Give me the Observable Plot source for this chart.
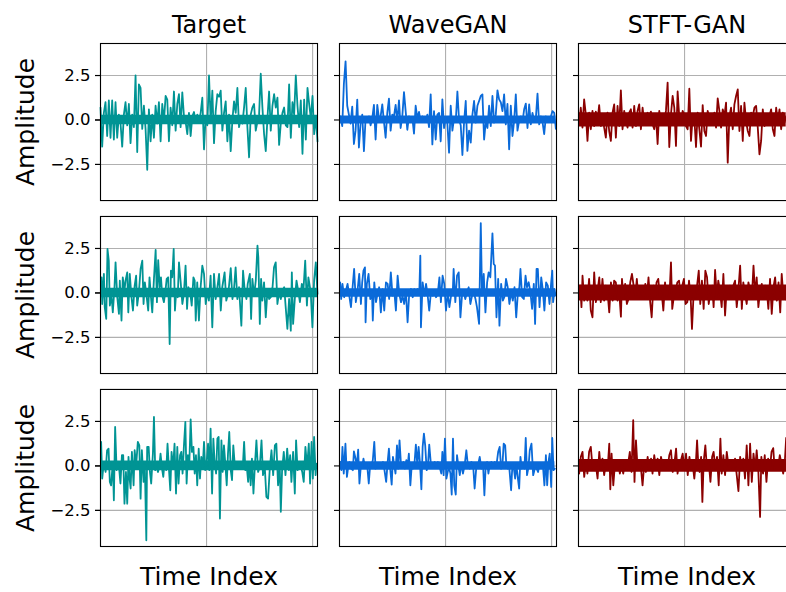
<!DOCTYPE html>
<html>
<head>
<meta charset="utf-8">
<script src="https://cdn.jsdelivr.net/npm/d3@7"></script>
<script src="https://cdn.jsdelivr.net/npm/@observablehq/plot@0.6"></script>
<style>
  html, body { margin: 0; padding: 0; background: #fff; }
  body { width: 786px; height: 592px; overflow: hidden; }
  #chart svg { max-width: none; display: block; }
</style>
</head>
<body>
<div id="chart"></div>
<script>
// Grid of generated waveforms: one column per model, one row per sample.
const models = ["Target", "WaveGAN", "STFT-GAN"];
const samples = ["Sample 1", "Sample 2", "Sample 3"];
const modelColors = ["#009494", "#0a6ad9", "#8b0000"];
const yTicks = [-2.5, 0, 2.5];
const xTicks = [0, 500, 1000];
const lastIndex = 1023;

// Half-width of the dense noise floor around zero, per sample row.
const floorTarget = [0.27, 0.27, 0.27];
const floorWave = [0.23, 0.24, 0.24];
const floorStft = [0.4, 0.45, 0.36];

// Sample 1: amplitudes taken at evenly spaced time indices between the span ends.
const target1Span = [0, 1023];
const target1 = [
  0.7, -1.5, 0.4, 1.0, -0.9, 1.1, -1.0, 1.1, -1.1, 1.0,
  -1.0, 0.3, -0.2, -1.5, 0.3, 1.0, -0.3, 0.9, -1.3, 0.3,
  -0.4, 2.5, -1.8, 2.0, 1.8, -0.5, 0.8, -0.5, -2.8, 0.6,
  -1.2, 0.3, -1.0, 0.8, -0.2, 1.0, -1.2, 0.9, -0.1, 1.35,
  1.15, -1.2, 0.7, -0.3, 1.6, -0.6, 0.9, 1.45, -0.4, 1.55,
  0.2, -0.1, -0.8, 0.4, -0.9, 0.2, 0.45, -0.15, 0.3, -0.1,
  0.4, 1.25, -1.65, 0.2, -0.3, 2.5, -0.1, 1.65, -1.3, 0.5,
  1.45, 1.3, 1.65, -0.6, 0.4, 1.05, -1.2, 0.3, -1.75, 0.0,
  1.05, 0.4, 1.8, -0.4, 0.1, -0.2, 0.7, 1.8, -0.4, -2.1,
  0.3, 0.7, 0.9, -0.6, -0.1, 0.3, 2.6, 0.7, -0.8, -1.75,
  0.1, 1.6, -0.6, 0.8, 1.45, 0.7, 1.25, -1.4, -0.2, 0.4,
  0.7, -0.3, -0.4, 2.0, -1.0, 1.0, 0.3, 2.5, 0.8, -0.4,
  1.1, -1.9, 1.15, -1.1, 1.8, 0.9, 0.1, 1.35, -0.8, 0.2,
  -1.2
];
const wave1Span = [5, 1020];
const wave1 = [
  0.2, -0.35, 2.05, 3.3, 0.8, 0.3, -0.2, 0.75, -1.35, -0.6,
  1.15, -1.55, -0.2, 0.3, -1.75, 0.1, -0.1, 0.2, -0.3, 0.1,
  0.85, -1.1, 0.85, 0.1, 0.2, 0.88, -0.1, -1.0, 0.4, 1.2,
  -0.6, 0.3, 0.2, 0.85, -0.1, 1.1, -0.45, 0.2, 1.57, 0.5,
  -0.55, 0.2, -0.1, 0.15, -0.77, 0.8, 0.1, 0.45, -0.1, 0.2,
  0.1, -0.1, 0.3, -0.4, 1.44, -1.37, 0.5, -1.1, 0.3, 0.4,
  -1.2, 1.16, -0.45, 0.1, -0.2, -1.84, 0.8, -0.6, 0.1, -0.1,
  1.6, 0.0, -0.3, -1.97, -0.1, 1.07, -1.74, -0.6, -1.27, 0.3,
  1.07, -0.15, 0.8, 1.07, 1.35, 1.44, -1.1, -0.1, -0.45, 0.8,
  -0.35, 1.35, -0.15, 0.3, 1.67, 1.16, 1.0, 0.5, 1.44, -0.25,
  0.9, -1.65, 0.8, -0.9, -0.05, 1.44, -0.6, -0.05, 0.2, -0.1,
  0.6, 0.92, -0.45, 0.88, -0.25, 0.4, -0.05, 0.1, 1.48, -0.25,
  0.2, -0.1, -0.8, 0.2, -0.1, 0.1, 0.2, 0.5, 0.4, -0.5
];
const stft1Span = [3, 979];
const stft1 = [
  -0.24, 0.69, -0.43, 1.16, 0.32, -1.18, 0.41, -0.52, 0.51, -0.34,
  0.47, -0.06, 0.84, -0.34, 0.32, -0.43, -0.99, 0.41, -0.62, -1.18,
  0.41, 0.88, -0.99, 0.79, -0.34, 1.67, -0.52, 0.51, -0.06, -0.43,
  0.41, 0.6, -0.43, 0.79, -0.34, 0.51, 0.88, -0.52, 0.69, -0.15,
  0.22, 0.41, 0.22, 0.47, -0.24, -0.52, 0.22, -1.35, 0.51, -0.24,
  0.13, -0.15, 0.51, 2.1, -1.52, 0.32, 1.35, 0.69, -1.46, 1.6,
  0.13, -0.24, 0.51, 0.28, -0.34, -0.52, 1.76, -1.18, 0.22, 0.13,
  -1.52, 0.41, -0.52, -1.5, 0.84, -0.62, -0.9, 0.51, 0.13, 0.22,
  -0.06, 0.41, -0.43, 1.22, 0.51, -0.43, 0.6, 0.22, 0.97, -2.4,
  0.22, 0.69, -0.52, 0.88, 1.35, 1.72, -0.62, 0.79, -1.18, 0.97,
  -0.06, -0.62, -0.9, 0.41, 0.22, 0.69, 0.79, -0.43, -1.93, -1.18,
  0.6, -0.34, 0.32, -0.24, 0.22, 0.6, -0.52, -0.9, 0.69, -0.06,
  0.6, -0.52, 0.41, -0.15, 0.22
];

// Samples 2 and 3: [time index, amplitude].
const target2 = [
  [5,0.88],[8,-0.62],[16,1.07],[20,-0.8],[27,-1.46],[33,2.47],[39,1.82],[44,-0.71],[52,-0.15],[58,-1.09],
  [66,0.32],[71,1.72],[79,-0.24],[87,-1.18],[91,0.69],[99,-1.55],[105,0.88],[113,0.13],[118,0.69],[126,1.16],
  [131,-1.09],[138,1.07],[146,-0.24],[153,-0.99],[161,0.41],[168,0.97],[173,-0.71],[181,0.04],[189,1.35],[197,1.82],
  [203,-0.62],[209,0.6],[217,-0.15],[225,-0.99],[231,0.88],[238,-0.24],[244,-1.09],[252,0.79],[260,2.42],[266,-0.52],
  [272,1.85],[279,0.32],[285,0.88],[291,-0.15],[299,-0.52],[307,0.22],[312,0.79],[319,0.88],[326,-2.87],[332,1.25],
  [338,0.88],[345,2.47],[351,-0.99],[357,0.13],[364,-0.24],[370,1.72],[378,0.6],[386,-0.62],[393,-0.06],[401,1.54],
  [408,-0.9],[414,0.32],[422,0.13],[430,-0.71],[438,0.88],[444,0.69],[449,-1.55],[456,0.6],[464,-1.55],[472,0.32],
  [480,1.54],[488,1.07],[496,-0.62],[505,0.13],[511,-0.43],[519,0.97],[527,-1.93],[535,1.07],[543,-0.34],[551,0.32],
  [559,1.07],[567,-0.99],[574,0.32],[585,1.16],[593,-0.43],[603,0.04],[614,1.4],[622,-0.34],[630,0.32],[637,1.44],
  [645,-0.34],[653,0.32],[664,-1.84],[672,1.25],[680,0.13],[688,-0.34],[694,0.51],[704,1.07],[710,-1.46],[716,0.79],
  [724,-0.15],[732,0.69],[740,2.66],[744,2.0],[751,-1.74],[757,0.79],[763,-0.43],[771,0.6],[779,-1.37],[787,0.13],
  [795,-0.34],[803,-0.24],[811,0.32],[818,1.44],[826,1.72],[834,-0.62],[842,0.04],[850,-0.34],[858,0.13],[866,0.32],
  [873,-0.8],[881,-2.02],[889,-0.34],[897,-2.12],[902,1.16],[908,-1.74],[916,-0.34],[924,0.69],[932,0.13],[940,-0.52],
  [949,0.51],[957,0.22],[965,1.82],[973,-0.71],[980,0.88],[991,0.04],[999,-1.93],[1007,0.69],[1015,1.72],[1023,-0.06]
];
const wave2 = [
  [3,0.6],[8,-0.34],[14,0.51],[22,-0.24],[30,0.13],[38,0.51],[46,-0.15],[54,-0.8],[61,0.22],[69,1.35],
  [77,-0.52],[85,0.13],[93,1.07],[101,-0.62],[107,0.6],[113,1.25],[120,1.44],[123,-1.65],[129,0.51],[137,1.07],
  [145,-0.34],[153,0.13],[157,-1.55],[164,0.6],[172,-0.52],[179,-0.06],[187,0.32],[195,-1.09],[203,0.22],[211,-0.99],
  [219,0.6],[227,0.51],[234,-0.34],[242,1.16],[250,-0.15],[258,0.13],[266,-0.99],[274,0.97],[282,-0.06],[290,-0.52],
  [297,-0.15],[305,-0.62],[313,0.13],[321,-1.65],[329,0.04],[337,0.22],[345,-0.24],[353,0.22],[360,0.04],[368,0.22],
  [376,-0.06],[381,2.1],[384,-1.93],[392,0.6],[400,-0.15],[408,0.51],[415,-0.06],[423,-0.99],[431,0.04],[439,-0.15],
  [447,0.13],[455,-0.24],[463,-0.06],[471,0.88],[478,-0.52],[486,0.97],[494,0.51],[502,-0.99],[510,0.04],[518,-0.8],
  [526,-0.15],[534,0.04],[538,1.35],[546,-0.52],[554,0.97],[562,1.16],[570,-1.37],[578,-0.06],[585,0.13],[593,-0.34],
  [601,0.04],[609,0.32],[617,-0.62],[625,-0.15],[633,0.04],[641,-0.34],[648,-0.8],[658,-1.74],[666,3.93],[672,-0.15],
  [680,1.07],[688,-1.09],[696,0.6],[703,1.16],[711,0.88],[721,3.35],[727,1.63],[733,1.54],[740,-1.37],[748,0.79],
  [754,-1.84],[762,0.51],[770,-0.43],[777,-0.24],[785,0.79],[793,0.32],[801,-0.62],[809,0.04],[817,-0.43],[825,0.32],
  [833,-1.37],[840,-0.15],[848,0.32],[853,1.35],[861,-0.24],[869,-0.34],[877,0.97],[884,0.32],[892,0.6],[900,0.04],
  [908,-0.9],[916,0.51],[922,-1.74],[929,1.35],[935,1.35],[943,-0.8],[951,0.88],[958,0.22],[966,-0.99],[974,0.6],
  [982,0.41],[990,-0.62],[998,0.6],[1003,1.25],[1007,-0.52],[1014,0.22],[1018,-0.15]
];
const stft2 = [
  [3,-0.34],[8,0.41],[14,-0.8],[19,0.97],[27,-0.43],[35,0.41],[42,-0.43],[50,0.79],[58,-0.99],[66,-1.37],
  [74,1.16],[82,-0.52],[90,0.13],[98,0.88],[105,-0.52],[113,0.79],[121,-0.43],[129,0.41],[137,0.04],[145,-1.09],
  [153,0.6],[161,-0.43],[168,0.69],[176,0.6],[184,-0.43],[192,0.04],[200,-1.33],[205,0.79],[212,-0.34],[220,0.51],
  [228,-0.62],[236,-0.34],[244,0.6],[252,1.07],[260,0.41],[268,-0.15],[275,0.79],[283,-0.34],[291,0.22],[299,0.13],
  [307,-0.34],[315,0.51],[323,-0.15],[330,0.88],[338,-0.52],[345,-1.37],[353,0.41],[360,-0.34],[368,0.6],[376,0.79],
  [384,-0.24],[392,0.04],[400,-0.99],[408,0.6],[415,-0.24],[423,0.22],[431,0.41],[436,1.72],[442,-0.9],[450,-0.15],
  [458,0.13],[466,0.6],[474,0.69],[482,-0.24],[489,0.41],[497,0.79],[505,-0.62],[513,-0.52],[521,0.69],[529,-0.34],
  [535,-2.02],[543,0.04],[551,-0.24],[559,0.41],[567,1.25],[574,-0.62],[582,0.69],[590,-0.9],[598,1.25],[606,0.88],
  [614,-0.62],[622,0.13],[630,0.41],[637,-0.8],[644,1.29],[652,-0.24],[659,0.69],[667,0.13],[675,-0.8],[683,1.07],
  [691,-1.27],[699,0.32],[707,-0.06],[714,0.41],[722,-0.24],[730,0.41],[738,0.69],[746,-0.8],[754,0.22],[762,1.54],
  [770,-0.9],[777,0.6],[785,-0.06],[793,-0.62],[801,0.6],[809,0.13],[817,-0.34],[825,1.54],[833,-0.15],[840,0.88],
  [848,-0.8],[856,0.13],[864,0.51],[872,-0.24],[880,0.41],[888,0.13],[895,-0.9],[903,0.79],[911,-1.18],[919,0.32],
  [927,0.88],[935,-0.43],[943,0.6],[951,-1.09],[958,1.07],[966,-0.24],[974,0.04],[982,-0.43]
];
const target3 = [
  [3,1.35],[8,-0.71],[16,0.22],[24,-0.34],[31,0.88],[38,0.97],[44,-0.9],[50,-1.09],[58,0.22],[63,-1.93],
  [69,2.19],[76,-0.24],[82,0.22],[88,-0.15],[94,-0.99],[101,0.6],[107,0.6],[113,-2.12],[120,-0.34],[126,-2.12],
  [132,0.51],[137,-0.71],[142,-1.27],[148,0.79],[156,-1.09],[161,0.88],[168,0.04],[176,1.35],[183,1.16],[189,-1.84],
  [195,0.88],[203,-0.9],[209,0.04],[216,-4.18],[220,1.07],[227,1.07],[233,-0.34],[239,-0.99],[247,0.69],[252,2.75],
  [258,-0.24],[264,-0.06],[271,-0.34],[277,-0.06],[283,0.69],[290,-0.15],[296,-0.62],[302,0.22],[310,-0.24],[316,1.25],
  [323,-0.24],[329,-1.37],[335,0.79],[342,-0.15],[349,1.25],[356,-1.55],[362,1.07],[368,-0.99],[375,0.6],[381,0.79],
  [387,-0.43],[393,1.07],[400,2.47],[406,-0.99],[412,0.6],[419,0.22],[425,2.62],[431,0.79],[438,1.07],[444,-0.43],
  [450,0.6],[456,-1.09],[463,0.97],[469,-0.71],[475,0.51],[482,-0.06],[488,1.35],[494,-0.24],[500,0.13],[507,1.25],
  [513,-0.24],[519,2.1],[526,-1.55],[532,1.54],[538,0.22],[545,-0.43],[551,1.54],[557,1.63],[563,-2.96],[570,1.44],
  [576,-0.34],[582,1.16],[589,0.04],[595,-1.09],[601,0.69],[607,1.91],[614,-0.24],[620,-0.8],[626,1.16],[633,0.04],
  [641,0.22],[648,-0.15],[656,0.13],[664,-0.15],[672,0.22],[677,1.35],[683,-0.24],[689,0.04],[696,-0.9],[702,0.22],
  [708,-1.09],[714,0.41],[721,-1.55],[727,-0.15],[735,1.44],[743,-0.34],[751,-0.06],[759,1.44],[766,-0.52],[774,0.04],
  [782,-1.74],[790,-1.84],[798,-0.15],[806,0.88],[814,-0.52],[822,1.16],[829,1.25],[837,-1.09],[845,0.04],[850,-2.58],
  [856,-0.24],[864,0.79],[872,-0.52],[880,0.97],[888,-0.24],[894,0.6],[900,-0.9],[908,0.79],[916,-1.55],[922,1.44],
  [929,-0.24],[935,0.04],[943,0.13],[951,-0.34],[958,-0.9],[966,1.07],[974,-0.06],[982,1.25],[988,-0.99],[995,1.35],
  [1001,-0.71],[1007,1.63],[1014,-0.52],[1018,0.13]
];
const wave3 = [
  [3,0.22],[9,-0.24],[14,1.07],[20,-0.43],[28,1.25],[35,-0.62],[41,-0.06],[47,0.22],[55,-0.15],[63,-0.24],
  [68,0.82],[74,0.51],[82,0.04],[88,0.92],[94,-0.99],[101,0.04],[107,-0.06],[113,0.41],[120,-0.06],[126,0.13],
  [132,-0.15],[138,-0.99],[145,0.13],[151,0.04],[157,0.32],[164,1.35],[170,-0.15],[176,0.13],[183,-0.06],[189,0.13],
  [197,-0.06],[205,0.22],[212,-0.24],[220,-0.9],[227,0.22],[233,0.97],[239,-0.15],[246,-1.05],[252,0.51],[258,0.04],
  [264,-0.43],[271,1.16],[277,-0.15],[283,1.44],[290,0.04],[296,-0.06],[302,0.22],[308,-0.15],[315,0.32],[321,-0.06],
  [327,0.69],[334,-1.09],[340,-0.06],[346,-0.15],[354,0.22],[360,1.2],[367,0.04],[373,1.07],[379,0.22],[386,-1.31],
  [392,1.07],[398,1.82],[404,1.16],[411,-0.24],[417,0.04],[423,1.2],[430,0.22],[436,-0.06],[442,-0.06],[449,0.22],
  [456,-0.06],[464,0.22],[472,-0.06],[480,-0.43],[485,0.79],[491,-0.52],[497,1.54],[504,-0.71],[510,-0.34],[516,-0.06],
  [523,-0.43],[529,-1.61],[535,1.54],[541,-1.09],[548,-1.61],[554,0.6],[560,0.04],[567,-0.52],[574,0.13],[582,-0.43],
  [590,0.04],[598,0.88],[606,-0.06],[614,-0.15],[622,0.22],[630,0.04],[637,-1.27],[645,-0.06],[653,0.04],[661,0.51],
  [669,-0.15],[677,0.04],[683,-1.65],[689,-0.06],[696,0.22],[702,-0.43],[708,0.04],[716,0.22],[724,-0.06],[732,0.22],
  [740,0.04],[748,0.79],[755,1.07],[762,-0.15],[768,0.04],[774,1.25],[781,1.16],[787,-0.06],[793,-0.15],[799,0.13],
  [809,-1.37],[815,0.04],[822,-0.15],[828,-0.71],[834,0.04],[842,-0.8],[847,-1.27],[853,0.51],[859,-0.15],[866,0.04],
  [872,-0.15],[878,1.57],[884,-0.52],[891,-0.06],[897,0.88],[905,1.25],[913,-0.52],[921,-0.15],[929,-0.15],[936,-0.34],
  [944,0.13],[952,-0.06],[960,-0.15],[966,-1.09],[973,0.6],[979,-1.09],[985,0.22],[991,0.69],[998,-1.18],[1003,1.57],
  [1009,-0.24],[1015,-0.15]
];
const stft3 = [
  [3,-0.43],[11,0.51],[19,0.79],[27,-0.62],[35,0.22],[42,-0.43],[50,0.79],[58,1.07],[66,-0.06],[74,-0.24],
  [82,0.04],[90,-0.71],[98,0.79],[105,-0.15],[113,0.41],[121,-0.52],[129,0.13],[137,-0.24],[145,1.25],[150,-1.31],
  [156,0.69],[164,-1.09],[172,0.13],[179,-0.15],[187,0.32],[195,-0.43],[203,0.04],[211,-0.43],[219,0.22],[227,-0.24],
  [234,0.13],[242,0.79],[250,-0.34],[258,2.57],[264,-0.9],[271,1.44],[279,-0.24],[286,0.22],[294,-0.06],[302,-1.09],
  [310,0.13],[318,-0.34],[326,0.51],[334,-0.24],[342,0.41],[349,-0.43],[357,0.6],[365,-0.06],[373,0.41],[381,-0.52],
  [389,0.51],[397,0.04],[404,-0.24],[412,0.22],[420,-0.15],[428,0.6],[436,0.88],[444,-0.34],[452,0.13],[460,0.97],
  [467,-0.43],[475,0.13],[483,0.32],[491,0.69],[499,-0.15],[507,0.69],[515,-0.52],[523,0.51],[530,-0.15],[538,0.13],
  [546,-0.71],[554,0.32],[559,1.44],[565,0.04],[571,-0.34],[578,0.51],[584,-2.02],[590,0.22],[598,1.16],[606,-0.24],
  [614,0.22],[622,-0.9],[630,0.51],[637,0.79],[645,-0.15],[653,0.51],[661,-1.09],[669,1.54],[675,-0.43],[683,0.6],
  [691,-0.52],[699,0.79],[707,0.04],[714,-0.24],[722,0.22],[730,-0.15],[738,0.41],[746,-0.52],[754,-1.42],[762,0.51],
  [770,-0.24],[777,0.41],[785,-0.71],[793,1.16],[801,-1.09],[809,1.25],[817,-0.9],[825,0.69],[833,-0.15],[840,0.88],
  [848,-0.34],[856,-2.87],[862,0.51],[870,-0.43],[878,0.6],[886,-0.9],[894,0.41],[902,-0.24],[910,0.79],[918,1.0],
  [925,-0.24],[933,0.32],[941,-0.06],[949,0.6],[957,0.13],[965,-0.43],[973,0.32],[979,1.57],[984,0.22]
];

// Turn evenly sampled values into [time index, amplitude] pairs.
const evenly = (values, [t0, t1]) =>
  values.map((v, i) => [t0 + (i * (t1 - t0)) / (values.length - 1), v]);

const series = [
  {model: "Target", sample: "Sample 1", points: evenly(target1, target1Span), floor: floorTarget[0]},
  {model: "WaveGAN", sample: "Sample 1", points: evenly(wave1, wave1Span), floor: floorWave[0]},
  {model: "STFT-GAN", sample: "Sample 1", points: evenly(stft1, stft1Span), floor: floorStft[0]},
  {model: "Target", sample: "Sample 2", points: target2, floor: floorTarget[1]},
  {model: "WaveGAN", sample: "Sample 2", points: wave2, floor: floorWave[1]},
  {model: "STFT-GAN", sample: "Sample 2", points: stft2, floor: floorStft[1]},
  {model: "Target", sample: "Sample 3", points: target3, floor: floorTarget[2]},
  {model: "WaveGAN", sample: "Sample 3", points: wave3, floor: floorWave[2]},
  {model: "STFT-GAN", sample: "Sample 3", points: stft3, floor: floorStft[2]}
];

const rows = series.flatMap(s =>
  s.points.map(([t, v]) => ({model: s.model, sample: s.sample, key: s.model + "|" + s.sample, t, v}))
);

// Dense noise floor: a band spanning each record's first to last time index.
const floors = series.flatMap(s => {
  const first = s.points[0][0];
  const last = s.points[s.points.length - 1][0];
  return [first, last].map(t => ({
    model: s.model, sample: s.sample, key: s.model + "|" + s.sample,
    t, lo: -s.floor, hi: s.floor
  }));
});

const gridStyle = {stroke: "#b0b0b0", strokeOpacity: 1, strokeWidth: 1.1};

const chart = Plot.plot({
  width: 795,
  height: 592,
  marginLeft: 100,
  marginRight: 0,
  marginTop: 43,
  marginBottom: 46,
  style: {fontFamily: "'DejaVu Sans', sans-serif", background: "#fff", color: "#000"},
  fx: {domain: models, axis: null, paddingInner: 0.092, paddingOuter: 0, round: false},
  fy: {domain: samples, axis: null, paddingInner: 0.092, paddingOuter: 0, round: false},
  x: {domain: [0, lastIndex], axis: null},
  y: {domain: [-4.53, 4.3]},
  color: {domain: models, range: modelColors},
  marks: [
    Plot.gridY(yTicks, gridStyle),
    Plot.gridX(xTicks, gridStyle),
    Plot.areaY(floors, {
      fx: "model", fy: "sample", x: "t", y1: "lo", y2: "hi", z: "key", fill: "model"
    }),
    Plot.lineY(rows, {
      fx: "model", fy: "sample", x: "t", y: "v", z: "key",
      stroke: "model", strokeWidth: 1.8
    }),
    Plot.frame({stroke: "#000", strokeWidth: 1.1}),
    Plot.axisY({
      ticks: yTicks, tickSize: 5, tickPadding: 5, fontSize: 16.5, label: null,
      tickFormat: d3.format(".1f"), strokeWidth: 1.1
    }),
    Plot.axisY({
      ticks: yTicks, tickSize: 5, tickFormat: () => "", label: null,
      facetAnchor: null, strokeWidth: 1.1
    }),
    Plot.text(models, {
      fx: d => d, fy: () => samples[0], text: d => d,
      frameAnchor: "top", lineAnchor: "bottom", dy: -11, fontSize: 24
    }),
    Plot.text(models, {
      fx: d => d, fy: () => samples[2], text: () => "Time Index",
      frameAnchor: "bottom", lineAnchor: "bottom", dy: 38, fontSize: 25
    }),
    Plot.text(samples, {
      fy: d => d, fx: () => models[0], text: () => "Amplitude",
      frameAnchor: "left", textAnchor: "middle", lineAnchor: "bottom",
      rotate: -90, dx: -67, fontSize: 25
    })
  ]
});

document.getElementById("chart").append(chart);
</script>
</body>
</html>
